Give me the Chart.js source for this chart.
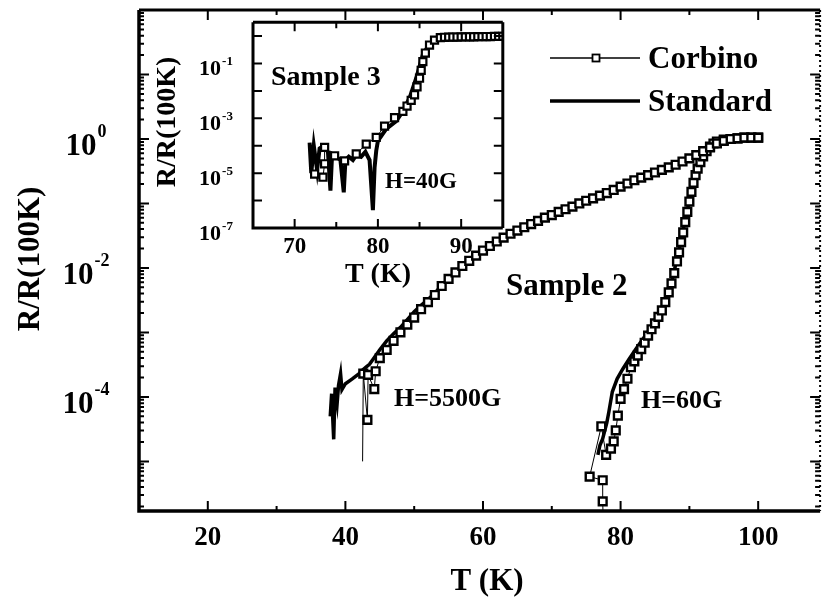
<!DOCTYPE html>
<html>
<head>
<meta charset="utf-8">
<script src="https://cdn.jsdelivr.net/npm/chart.js@4/dist/chart.umd.min.js"></script>
<style>
  html, body { margin: 0; padding: 0; background: #fff; }
  #wrap { position: relative; width: 828px; height: 602px; }
  #main { position: absolute; left: 0; top: 0; }
  #inset { position: absolute; left: 150px; top: 15px; }
</style>
</head>
<body>
<div id="wrap">
  <canvas id="main" width="828" height="602"></canvas>
  <canvas id="inset" width="360" height="280"></canvas>
</div>
<script>
// Sample 2, H=5500G : temperature (K) and R/R(100K)
const corbino5500T = [42.5, 42.6, 43.2, 43.3, 44.2, 44.4, 45, 46, 47, 48, 49, 50, 51, 52, 53, 54, 55, 56, 57, 58, 59, 60,
  61, 62, 63, 64, 65, 66, 67, 68, 69, 70, 71, 72, 73, 74, 75, 76, 77, 78, 79, 80,
  81, 82, 83, 84, 85, 86, 87, 88, 89, 90, 91, 92, 93, 94, 95, 96, 97, 98, 99, 100];
const corbino5500R = [1.0e-5, 2.3e-4, 4.4e-5, 2.2e-4, 1.32e-4, 2.5e-4, 4.0e-4, 5.37e-4, 7.41e-4, 1.0e-3, 1.32e-3, 1.70e-3,
  2.29e-3, 2.95e-3, 3.80e-3, 5.25e-3, 6.76e-3, 8.51e-3, 1.07e-2, 1.29e-2, 1.55e-2, 1.86e-2,
  2.19e-2, 2.57e-2, 2.95e-2, 3.39e-2, 3.80e-2, 4.27e-2, 4.79e-2, 5.37e-2, 6.03e-2, 6.61e-2,
  7.41e-2, 8.13e-2, 8.91e-2, 0.100, 0.110, 0.120, 0.132, 0.145, 0.162, 0.182,
  0.204, 0.229, 0.251, 0.275, 0.302, 0.331, 0.363, 0.398, 0.447, 0.501, 0.562, 0.646, 0.741, 0.851, 0.933, 1.0, 1.02, 1.05, 1.05, 1.05];
const standard5500T = [37.8, 38.0, 38.3, 38.5, 38.8, 39.0, 39.3, 39.5, 40.0, 41.0, 42.0, 42.5, 43.0, 43.5, 44.0, 45.0, 46.0, 47.0,
  48.0, 49.0, 50.0, 51.0, 52.0, 53.0, 54.0, 56, 58, 60, 62, 64, 66, 68, 70, 72, 74, 76, 78, 80, 82, 84, 86, 88, 90, 92, 94, 96, 98, 100];
const standard5500R = [5.0e-5, 1.12e-4, 2.2e-5, 1.4e-4, 8.0e-5, 1.5e-4, 2.3e-4, 1.3e-4, 1.6e-4, 1.9e-4, 2.3e-4, 2.6e-4, 2.9e-4, 3.2e-4,
  3.8e-4, 5.4e-4, 7.4e-4, 9.5e-4, 1.2e-3, 1.58e-3, 2.09e-3, 2.63e-3, 3.24e-3, 4.07e-3, 5.37e-3, 8.51e-3, 1.29e-2, 1.86e-2,
  2.57e-2, 3.39e-2, 4.27e-2, 5.37e-2, 6.61e-2, 8.13e-2, 0.100, 0.120, 0.145, 0.182, 0.229, 0.275, 0.331, 0.398, 0.501, 0.646, 0.851, 1.0, 1.05, 1.05];

// Sample 2, H=60G
const corbino60T = [77.5, 77.4, 77.4, 75.5, 77.2, 77.9, 78.6, 79.0, 79.3, 79.6, 80.0, 80.5, 81.0, 81.5, 82.0, 82.5, 83.0, 83.5,
  84.0, 84.5, 85.0, 85.5, 86.0, 86.5, 87.0, 87.4, 87.8, 88.2, 88.5, 88.8, 89.1, 89.4, 89.7, 90.0, 90.3, 90.6, 90.9, 91.2,
  91.6, 92.0, 92.5, 93.0, 93.5, 94.0, 95, 96, 97, 98, 99, 100];
const corbino60R = [1.0e-6, 2.4e-6, 5.1e-6, 5.8e-6, 3.5e-5, 1.26e-5, 1.58e-5, 2.04e-5, 3.02e-5, 5.13e-5, 9.33e-5, 1.32e-4, 1.91e-4,
  2.88e-4, 3.55e-4, 4.37e-4, 5.50e-4, 6.92e-4, 8.91e-4, 1.12e-3, 1.38e-3, 1.74e-3, 2.19e-3, 2.95e-3, 4.17e-3, 5.75e-3,
  8.32e-3, 1.26e-2, 1.74e-2, 2.51e-2, 3.55e-2, 5.13e-2, 7.41e-2, 0.107, 0.151, 0.209, 0.275, 0.347, 0.437, 0.537, 0.646,
  0.759, 0.851, 0.912, 0.977, 1.0, 1.02, 1.05, 1.05, 1.05];
const standard60T = [76.7, 77.0, 77.4, 78.0, 78.3, 78.8, 79.5, 80.3, 81.2, 82.2, 83.4, 84.6, 86.0, 87.0, 87.5, 88.0, 88.4, 89.0,
  89.4, 90.0, 90.4, 91.0, 91.8, 92.5, 93.5, 95, 97, 100];
const standard60R = [1.26e-5, 1.78e-5, 2.24e-5, 3.98e-5, 5.89e-5, 1.20e-4, 1.91e-4, 2.69e-4, 3.80e-4, 5.50e-4, 8.32e-4, 1.26e-3,
  2.24e-3, 4.47e-3, 6.61e-3, 1.12e-2, 1.70e-2, 3.55e-2, 5.50e-2, 0.112, 0.178, 0.316, 0.513, 0.676, 0.832, 0.955, 1.0, 1.05];

// Sample 3 (inset), H=40G
const corbino40T = [72.4, 73.4, 73.6, 73.6, 74.8, 76.0, 77.4, 78.6, 79.8, 80.8, 82.0, 83.0, 83.5, 84.0, 84.4, 84.7, 85.0, 85.2,
  85.4, 85.7, 86.2, 86.8, 87.5, 88, 88.5, 89, 89.5, 90, 90.5, 91, 91.5, 92, 92.5, 93, 93.5, 94, 94.5, 95];
const corbino40R = [9.3e-6, 7.1e-6, 2.2e-5, 8.7e-5, 4.3e-5, 2.8e-5, 5.0e-5, 1.15e-4, 2.0e-4, 5.2e-4, 1.05e-3, 1.8e-3, 2.8e-3,
  4.5e-3, 7.2e-3, 1.4e-2, 2.9e-2, 5.6e-2, 0.117, 0.24, 0.47, 0.71, 0.87, 0.90, 0.91, 0.92, 0.92, 0.93, 0.93, 0.94, 0.94,
  0.95, 0.95, 0.96, 0.96, 0.97, 0.97, 0.98];
const standard40T = [71.8, 72.0, 72.3, 72.7, 73.0, 73.5, 74.0, 74.3, 74.5, 75.0, 75.5, 75.9, 76.1, 76.5, 77.0, 77.5, 78.0, 78.5,
  79.0, 79.4, 79.6, 79.8, 80.0, 81.0, 82.2, 83.0, 83.8, 84.6, 85.4, 86.0, 87.0, 88, 89, 90, 91, 92, 93, 94, 95];
const standard40R = [1.3e-4, 1.0e-5, 1.0e-4, 1.3e-5, 8.0e-5, 1.0e-4, 6.0e-5, 2.3e-6, 5.0e-5, 4.0e-5, 3.0e-5, 2.0e-6, 3.0e-5,
  4.0e-5, 3.0e-5, 5.0e-5, 4.0e-5, 6.0e-5, 3.0e-5, 4.5e-7, 1.6e-5, 6.6e-5, 1.5e-4, 4.1e-4, 7.9e-4, 1.8e-3, 5.5e-3, 2.9e-2,
  0.21, 0.41, 0.72, 0.90, 0.92, 0.93, 0.94, 0.95, 0.96, 0.97, 0.98];

// tick labels
const mainXLabels = [20, 40, 60, 80, 100];
const mainYExponents = [0, -2, -4];
const insetXLabels = [70, 80, 90];
const insetYExponents = [-1, -3, -5, -7];
const legendLabels = ['Corbino', 'Standard'];

function serif(size) {
  return 'bold ' + size + 'px "Liberation Serif", "Times New Roman", serif';
}

function pts(xs, ys) {
  return xs.map((t, i) => ({ x: t, y: ys[i] }));
}

const corbinoStyle = {
  borderColor: '#000', borderWidth: 1, backgroundColor: '#fff', fill: false, tension: 0,
  pointStyle: 'rect', pointRadius: 5.5, pointBorderWidth: 2.4,
  pointBackgroundColor: '#fff', pointBorderColor: '#000'
};
const standardStyle = {
  borderColor: '#000', borderWidth: 3.5, fill: false, tension: 0, pointRadius: 0
};

// decade ticks plus 2..9 minor ticks
function logTicks(lo, hi) {
  const major = [], minor = [];
  for (let e = -8; e <= 2; e++) {
    const d = Math.pow(10, e);
    if (d > lo && d < hi) major.push(d);
    for (let m = 2; m <= 9; m++) {
      if (m * d > lo && m * d < hi) minor.push(m * d);
    }
  }
  return { major, minor };
}

// "10" with a raised exponent, centred on cx
function drawPower(ctx, exp, cx, py, c) {
  ctx.font = serif(c.yFont);
  const w1 = ctx.measureText('10').width;
  ctx.font = serif(c.supFont);
  const w2 = ctx.measureText(exp).width;
  const left = cx - (w1 + w2 + 1) / 2;
  ctx.textAlign = 'left';
  ctx.textBaseline = 'alphabetic';
  ctx.font = serif(c.yFont);
  ctx.fillText('10', left, py + c.baseDy);
  ctx.font = serif(c.supFont);
  ctx.fillText(exp, left + w1 + 1, py + c.supDy);
}

// frame, inward ticks, tick labels, titles and notes
function axesPlugin(c) {
  return {
    id: 'axes_' + c.name,
    afterDraw(chart) {
      const { ctx, chartArea: a } = chart;
      const sx = chart.scales.x, sy = chart.scales.y;
      ctx.save();
      ctx.strokeStyle = '#000';
      ctx.fillStyle = '#000';

      ctx.lineWidth = c.tickWidth;
      ctx.beginPath();
      const xt = (v, len) => {
        const p = sx.getPixelForValue(v);
        ctx.moveTo(p, a.bottom); ctx.lineTo(p, a.bottom - len);
        ctx.moveTo(p, a.top); ctx.lineTo(p, a.top + len);
      };
      const yt = (v, len) => {
        const p = sy.getPixelForValue(v);
        ctx.moveTo(a.left, p); ctx.lineTo(a.left + len, p);
        ctx.moveTo(a.right, p); ctx.lineTo(a.right - len, p);
      };
      c.xMajor.forEach(v => xt(v, c.majorLen));
      c.xMinor.forEach(v => xt(v, c.minorLen));
      c.yMajor.forEach(v => yt(v, c.majorLen));
      c.yMinor.forEach(v => yt(v, c.minorLen));
      ctx.stroke();

      ctx.lineWidth = c.frameWidth;
      ctx.beginPath();
      ctx.moveTo(a.left, a.top);
      ctx.lineTo(a.left, a.bottom);
      ctx.lineTo(a.right, a.bottom);
      ctx.stroke();
      ctx.lineWidth = c.topWidth;
      ctx.beginPath();
      ctx.moveTo(a.left, a.top);
      ctx.lineTo(a.right, a.top);
      ctx.stroke();
      ctx.lineWidth = c.rightWidth;
      ctx.setLineDash(c.rightDash);
      ctx.beginPath();
      ctx.moveTo(a.right, a.top);
      ctx.lineTo(a.right, a.bottom);
      ctx.stroke();
      ctx.setLineDash([]);

      ctx.font = serif(c.xFont);
      ctx.textAlign = 'center';
      ctx.textBaseline = 'alphabetic';
      c.xLabels.forEach(v => ctx.fillText(String(v), sx.getPixelForValue(v), a.bottom + c.xLabelDy));
      c.yExponents.forEach(e => drawPower(ctx, String(e), c.yLabelX, sy.getPixelForValue(Math.pow(10, e)), c));

      ctx.font = serif(c.titleFont);
      ctx.textAlign = 'center';
      ctx.fillText(c.xTitle, c.xTitleX, c.xTitleY);
      ctx.save();
      ctx.translate(c.yTitleX, c.yTitleY);
      ctx.rotate(-Math.PI / 2);
      ctx.textBaseline = 'middle';
      ctx.fillText(c.yTitle, 0, 0);
      ctx.restore();

      ctx.textAlign = 'left';
      ctx.textBaseline = 'alphabetic';
      c.notes.forEach(n => {
        ctx.font = serif(n.size);
        ctx.fillText(n.text, n.x, n.y);
      });
      ctx.restore();
    }
  };
}

const legendPlugin = {
  id: 'sampleLegend',
  afterDraw(chart) {
    const ctx = chart.ctx;
    ctx.save();
    ctx.strokeStyle = '#000';
    ctx.fillStyle = '#000';
    // Corbino: thin line with open square
    ctx.lineWidth = 1.3;
    ctx.beginPath();
    ctx.moveTo(550, 58); ctx.lineTo(640, 58);
    ctx.stroke();
    ctx.fillStyle = '#fff';
    ctx.lineWidth = 1.8;
    ctx.fillRect(592.5, 54.5, 7, 7);
    ctx.strokeRect(592.5, 54.5, 7, 7);
    // Standard: thick line
    ctx.lineWidth = 3.5;
    ctx.beginPath();
    ctx.moveTo(550, 101); ctx.lineTo(640, 101);
    ctx.stroke();
    ctx.fillStyle = '#000';
    ctx.font = serif(31);
    ctx.textAlign = 'left';
    ctx.textBaseline = 'alphabetic';
    ctx.fillText(legendLabels[0], 648, 68);
    ctx.fillText(legendLabels[1], 648, 111);
    ctx.restore();
  }
};

const mainY = logTicks(1.7e-6, 100);
const mainAxes = axesPlugin({
  name: 'main',
  xMajor: [20, 40, 60, 80, 100], xMinor: [30, 50, 70, 90],
  yMajor: mainY.major, yMinor: mainY.minor,
  majorLen: 10, minorLen: 5, tickWidth: 2,
  frameWidth: 3.5, topWidth: 3, rightWidth: 2, rightDash: [2, 3],
  xLabels: mainXLabels, xFont: 27, xLabelDy: 34,
  yExponents: mainYExponents, yLabelX: 86, yFont: 31, supFont: 18, baseDy: 16, supDy: -2,
  titleFont: 31, xTitle: 'T (K)', xTitleX: 487, xTitleY: 590,
  yTitle: 'R/R(100K)', yTitleX: 31, yTitleY: 259,
  notes: [
    { text: 'Sample 2', x: 506, y: 295, size: 31 },
    { text: 'H=5500G', x: 394, y: 406, size: 26 },
    { text: 'H=60G', x: 641, y: 408, size: 26 }
  ]
});

new Chart(document.getElementById('main'), {
  type: 'line',
  data: {
    datasets: [
      {
        label: 'Corbino', data: pts(corbino5500T, corbino5500R), ...corbinoStyle,
        // the lowest reading is only a line end, no symbol
        pointRadius: c => (c.raw && c.raw.y < 1.5e-5 ? 0 : 5.5)
      },
      { label: 'Corbino', data: pts(corbino60T, corbino60R), ...corbinoStyle },
      { label: 'Standard', data: pts(standard5500T, standard5500R), ...standardStyle },
      { label: 'Standard', data: pts(standard60T, standard60R), ...standardStyle }
    ]
  },
  options: {
    responsive: false,
    animation: false,
    events: [],
    layout: { padding: { left: 139, top: 10, right: 3, bottom: 91 } },
    scales: {
      x: { type: 'linear', min: 10, max: 109, display: false },
      y: { type: 'logarithmic', min: 1.7e-6, max: 100, display: false }
    },
    plugins: { legend: { display: false }, tooltip: { enabled: false } }
  },
  plugins: [mainAxes, legendPlugin]
});

const insetY = logTicks(1e-7, 3.2);
const insetAxes = axesPlugin({
  name: 'inset',
  xMajor: [70, 80, 90], xMinor: [75, 85],
  yMajor: insetY.major, yMinor: [],
  majorLen: 9, minorLen: 6, tickWidth: 2,
  frameWidth: 3, topWidth: 3, rightWidth: 3, rightDash: [],
  xLabels: insetXLabels, xFont: 23, xLabelDy: 25,
  yExponents: insetYExponents, yLabelX: 66, yFont: 22, supFont: 13, baseDy: 12, supDy: 2,
  titleFont: 28, xTitle: 'T (K)', xTitleX: 228, xTitleY: 267,
  yTitle: 'R/R(100K)', yTitleX: 18, yTitleY: 107,
  notes: [
    { text: 'Sample 3', x: 121, y: 70, size: 28 },
    { text: 'H=40G', x: 235, y: 173, size: 23 }
  ]
});

new Chart(document.getElementById('inset'), {
  type: 'line',
  data: {
    datasets: [
      { label: 'Corbino', data: pts(corbino40T, corbino40R), ...corbinoStyle, pointRadius: 5, pointBorderWidth: 2.2 },
      { label: 'Standard', data: pts(standard40T, standard40R), ...standardStyle, borderWidth: 4 }
    ]
  },
  options: {
    responsive: false,
    animation: false,
    events: [],
    layout: { padding: { left: 103, top: 5, right: 7, bottom: 67 } },
    scales: {
      x: { type: 'linear', min: 65, max: 95, display: false },
      y: { type: 'logarithmic', min: 1e-7, max: 3.2, display: false }
    },
    plugins: { legend: { display: false }, tooltip: { enabled: false } }
  },
  plugins: [insetAxes]
});
</script>
</body>
</html>
